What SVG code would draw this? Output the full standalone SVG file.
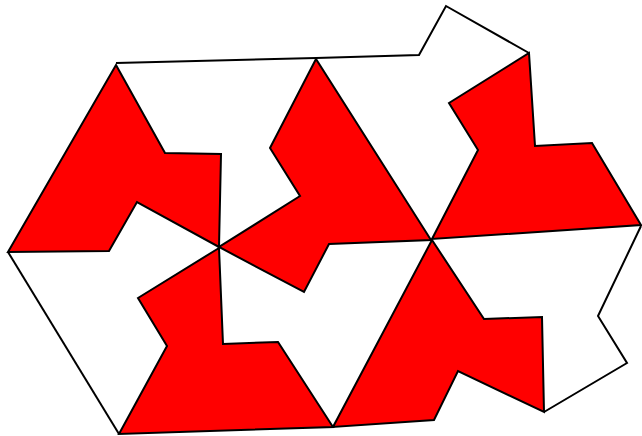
<svg xmlns="http://www.w3.org/2000/svg" width="642" height="436" viewBox="0 0 642 436">
<style>
.tile{fill:#ff0000;stroke:#000;stroke-width:2;stroke-linejoin:miter}
.edge{fill:none;stroke:#000;stroke-width:2;stroke-linejoin:miter}
</style>
<rect width="642" height="436" fill="#fff"/>
<g id="outline">
<polyline class="edge" points="116,63 316,58 419,55 446,6 529,53"/>
<polyline class="edge" points="8,252 119,434"/>
<polyline class="edge" points="641,226 598,316 627,363 544,412"/>
</g>
<g id="tile-left">
<polygon class="tile" points="116,65 165,153 221,154 219,247 137,202 109,251 8,252"/>
</g>
<g id="tile-middle">
<polygon class="tile" points="316,59 270,148 300,196 219,247 304,292 329,244 431,240"/>
</g>
<g id="tile-right">
<polygon class="tile" points="529,53 535,146 592,143 641,225 432,239 478,150 449,103"/>
</g>
<g id="tile-bottom-left">
<polygon class="tile" points="219,248 138,298 167,346 119,434 333,427 278,342 223,344"/>
</g>
<g id="tile-bottom-right">
<polygon class="tile" points="432,240 484,319 542,317 544,412 458,371 434,420 333,427"/>
</g>
</svg>
